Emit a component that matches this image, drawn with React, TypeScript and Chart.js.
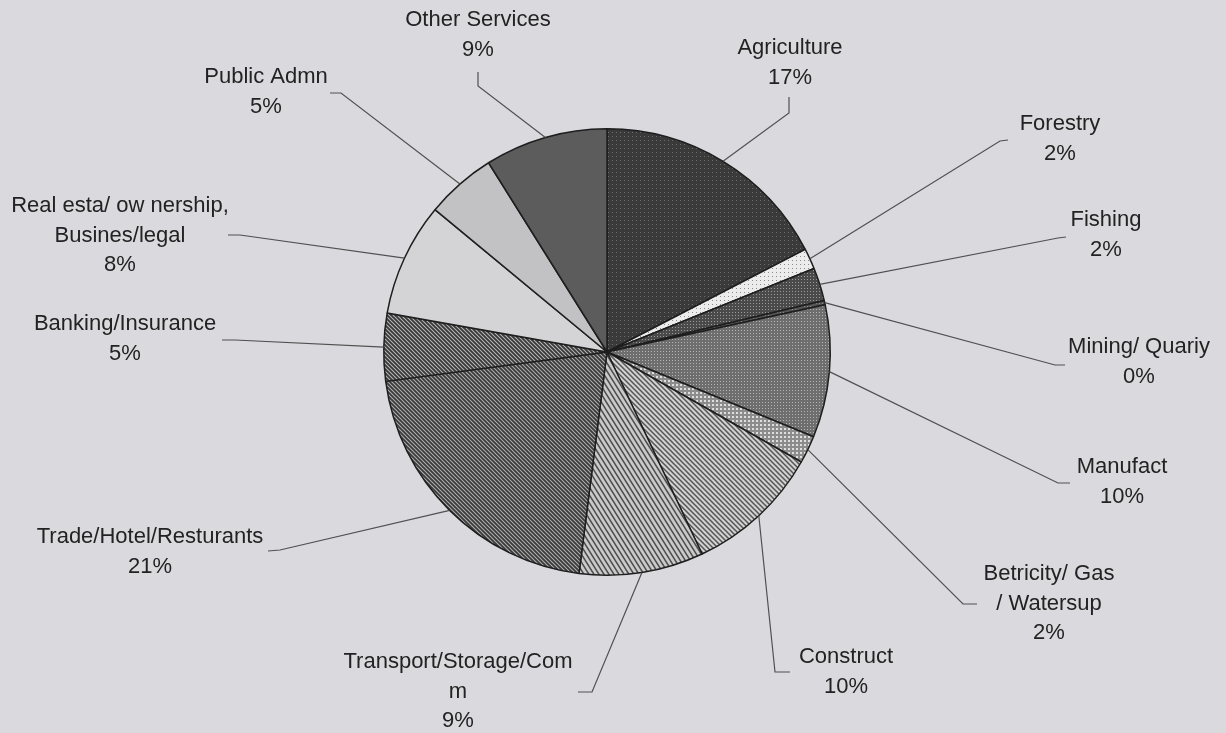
import React, { useEffect, useRef } from "react";
import { Chart, registerables } from "chart.js";

Chart.register(...registerables);

// ---- data ----
const categories: string[][] = [
  ["Agriculture"],
  ["Forestry"],
  ["Fishing"],
  ["Mining/ Quariy"],
  ["Manufact"],
  ["Betricity/ Gas", "/ Watersup"],
  ["Construct"],
  ["Transport/Storage/Com", "m"],
  ["Trade/Hotel/Resturants"],
  ["Banking/Insurance"],
  ["Real esta/ ow nership,", "Busines/legal"],
  ["Public Admn"],
  ["Other Services"],
];
const shares: number[] = [17.4, 1.5, 2.4, 0.3, 9.6, 2.0, 9.8, 9.0, 20.9, 4.9, 8.2, 5.1, 8.9];

// ---- label layout (text block centre x, first line y; leader stub end, elbow) ----
const labelAnchors: [number, number][] = [
  [790, 48], [1060, 124], [1106, 220], [1139, 347], [1122, 467], [1049, 574],
  [846, 657], [458, 662], [150, 537], [125, 324], [120, 206], [266, 77], [478, 20],
];
const leaderStubs: [number, number, number, number][] = [
  [789, 97, 789, 113],
  [1008, 140, 1000, 141],
  [1066, 237, 1058, 238],
  [1065, 365, 1055, 365],
  [1070, 483, 1058, 483],
  [977, 604, 963, 604],
  [790, 672, 775, 672],
  [578, 692, 592, 692],
  [268, 551, 280, 550],
  [222, 340, 235, 340],
  [228, 235, 240, 235],
  [330, 93, 341, 93],
  [478, 72, 478, 86],
];

type PatSpec =
  | { kind: "solid"; color: string }
  | { kind: "dots"; bg: string; fg: string; step: number; size: number }
  | { kind: "stripes"; bg: string; fg: string; step: number; width: number; steep?: boolean };

const patternSpecs: PatSpec[] = [
  { kind: "dots", bg: "#3a3a3a", fg: "#6e6e6e", step: 4, size: 1 },
  { kind: "dots", bg: "#ececec", fg: "#8a8a8a", step: 4, size: 1 },
  { kind: "dots", bg: "#4a4a4a", fg: "#9a9a9a", step: 3, size: 1 },
  { kind: "dots", bg: "#555555", fg: "#8a8a8a", step: 3, size: 1 },
  { kind: "dots", bg: "#6e6e6e", fg: "#b4b4b4", step: 3, size: 1 },
  { kind: "dots", bg: "#8c8c8c", fg: "#dedede", step: 4, size: 2 },
  { kind: "stripes", bg: "#d2d2d2", fg: "#555555", step: 5, width: 1.5 },
  { kind: "stripes", bg: "#cacaca", fg: "#4e4e4e", step: 5, width: 1.5, steep: true },
  { kind: "stripes", bg: "#b0b0b0", fg: "#3a3a3a", step: 4, width: 1.8 },
  { kind: "stripes", bg: "#b8b8b8", fg: "#383838", step: 4, width: 1.8 },
  { kind: "solid", color: "#d4d4d6" },
  { kind: "solid", color: "#c2c2c4" },
  { kind: "solid", color: "#5c5c5c" },
];

function makePattern(spec: PatSpec): CanvasPattern | string {
  if (spec.kind === "solid") return spec.color;
  const c = document.createElement("canvas");
  const ctx = c.getContext("2d")!;
  if (spec.kind === "dots") {
    const s = spec.step;
    c.width = s;
    c.height = s;
    ctx.fillStyle = spec.bg;
    ctx.fillRect(0, 0, s, s);
    ctx.fillStyle = spec.fg;
    ctx.fillRect(0, 0, spec.size, spec.size);
  } else {
    const s = spec.step;
    const h = spec.steep ? s * 1.6 : s;
    c.width = Math.round(s);
    c.height = Math.round(h);
    ctx.fillStyle = spec.bg;
    ctx.fillRect(0, 0, c.width, c.height);
    ctx.strokeStyle = spec.fg;
    ctx.lineWidth = spec.width;
    const W = c.width, H = c.height;
    ctx.beginPath();
    ctx.moveTo(-W, -H);
    ctx.lineTo(2 * W, 2 * H);
    ctx.moveTo(-W, 0);
    ctx.lineTo(W, 2 * H);
    ctx.moveTo(0, -H);
    ctx.lineTo(2 * W, H);
    ctx.stroke();
  }
  return ctx.createPattern(c, "repeat")!;
}

const FONT = '22px "Liberation Sans", Arial, sans-serif';

const labelPlugin = {
  id: "pieLabels",
  afterDatasetsDraw(chart: any) {
    const ctx: CanvasRenderingContext2D = chart.ctx;
    const meta = chart.getDatasetMeta(0);
    const values: number[] = chart.data.datasets[0].data;
    ctx.save();
    meta.data.forEach((arc: any, i: number) => {
      const p = arc.getProps(["x", "y", "startAngle", "endAngle", "outerRadius"], true);
      const mid = (p.startAngle + p.endAngle) / 2;
      const ex = p.x + Math.cos(mid) * p.outerRadius;
      const ey = p.y + Math.sin(mid) * p.outerRadius;
      const [sx, sy, bx, by] = leaderStubs[i];
      ctx.strokeStyle = "#505050";
      ctx.lineWidth = 1.2;
      ctx.beginPath();
      ctx.moveTo(sx, sy);
      ctx.lineTo(bx, by);
      ctx.lineTo(ex, ey);
      ctx.stroke();

      const lines = [...categories[i], Math.round(values[i]) + "%"];
      const [lx, ly] = labelAnchors[i];
      ctx.font = FONT;
      ctx.fillStyle = "#222222";
      ctx.textAlign = "center";
      ctx.textBaseline = "middle";
      lines.forEach((t, k) => ctx.fillText(t, lx, ly + k * 29.5));
    });
    ctx.restore();
  },
};

export default function App() {
  const ref = useRef<HTMLCanvasElement>(null);
  useEffect(() => {
    if (!ref.current) return;
    const chart = new Chart(ref.current, {
      type: "pie",
      data: {
        labels: categories.map((c) => c.join(" ")),
        datasets: [
          {
            data: shares,
            backgroundColor: patternSpecs.map(makePattern) as any,
            borderColor: "#1e1e1e",
            borderWidth: 1.5,
          },
        ],
      },
      options: {
        responsive: false,
        animation: false,
        layout: { padding: { left: 298, right: 310, top: 128, bottom: 157 } },
        plugins: { legend: { display: false }, tooltip: { enabled: false } },
      },
      plugins: [labelPlugin],
    });
    return () => chart.destroy();
  }, []);
  return (
    <div style={{ position: "fixed", left: 0, top: 0, width: 1226, height: 733, background: "#dadade" }}>
      <canvas ref={ref} width={1226} height={733} style={{ display: "block" }} />
    </div>
  );
}
